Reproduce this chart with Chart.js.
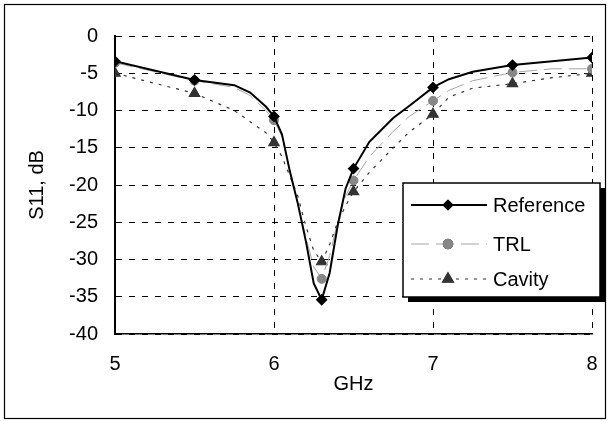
<!DOCTYPE html>
<html>
<head>
<meta charset="utf-8">
<script src="https://cdn.jsdelivr.net/npm/chart.js@4.4.0/dist/chart.umd.min.js"></script>
<style>
  html, body { margin: 0; padding: 0; background: #fff; }
  #wrap { width: 609px; height: 421px; position: relative; }
</style>
</head>
<body>
<div id="wrap"><canvas id="s11Chart" width="609" height="421"></canvas></div>
<script>
// Frequency points (GHz) and measured S11 (dB)
const freqGHz = [5, 5.5, 5.75, 5.85, 5.95, 6, 6.05, 6.1, 6.15, 6.2, 6.25, 6.3, 6.35, 6.4, 6.45, 6.5, 6.6, 6.75, 6.85, 7, 7.1, 7.25, 7.5, 7.75, 8];
const s11Reference = [-3.4, -5.9, -6.6, -7.6, -9.5, -10.8, -13.2, -18.2, -22.5, -27.5, -33.2, -35.4, -31.8, -25.5, -20.5, -17.8, -14.2, -11.0, -9.4, -6.9, -5.8, -4.8, -3.9, -3.4, -2.9];
const s11Trl = [-3.6, -6.0, -6.9, -8.0, -10.0, -11.3, -13.5, -18.0, -22.5, -27.0, -31.0, -32.6, -29.5, -25.0, -21.5, -19.4, -16.2, -12.8, -10.8, -8.7, -7.3, -6.0, -4.9, -4.4, -4.4];
const s11Cavity = [-5.0, -7.7, -10.0, -11.5, -13.0, -14.3, -16.2, -18.8, -21.5, -25.5, -28.8, -30.3, -28.0, -25.0, -22.8, -20.9, -18.3, -15.0, -12.9, -10.5, -8.2, -7.0, -6.4, -5.6, -5.0];
// frequencies where markers are shown
const markerFreqs = [5, 5.5, 6, 6.3, 6.5, 7, 7.5, 8];
const seriesNames = ['Reference', 'TRL', 'Cavity'];

const FONT = '"Liberation Sans", Arial, sans-serif';
const FONT_SIZE = 20;

function toPoints(ys) {
    return freqGHz.map((f, i) => ({ x: f, y: ys[i] }));
}

function markerRadius(r) {
    return ctx => (ctx.raw && markerFreqs.includes(ctx.raw.x)) ? r : 0;
}

// Legend box with drop shadow, drawn inside the plot
const boxLegend = {
    id: 'boxLegend',
    afterDraw(chart) {
        const ctx = chart.ctx;
        const x0 = 403, y0 = 183, w = 197, h = 114;
        ctx.save();
        ctx.fillStyle = '#000';
        ctx.fillRect(x0 + 5, y0 + 5, w, h);
        ctx.fillStyle = '#fff';
        ctx.fillRect(x0, y0, w, h);
        ctx.strokeStyle = '#000';
        ctx.lineWidth = 1.5;
        ctx.strokeRect(x0, y0, w, h);

        const rows = [205, 244, 279];
        chart.data.datasets.forEach((ds, i) => {
            const y = rows[i];
            ctx.save();
            ctx.strokeStyle = ds.borderColor;
            ctx.lineWidth = ds.borderWidth;
            ctx.setLineDash(ds.borderDash || []);
            ctx.beginPath();
            ctx.moveTo(411, y);
            ctx.lineTo(487, y);
            ctx.stroke();
            ctx.restore();
            Chart.helpers.drawPoint(ctx, {
                pointStyle: ds.pointStyle,
                radius: ds.legendRadius,
                borderWidth: 1,
                rotation: 0
            }, 448, y);
            ctx.fillStyle = ds.pointBackgroundColor;
            ctx.strokeStyle = ds.pointBorderColor;
            ctx.fill();
            ctx.stroke();
            ctx.fillStyle = '#000';
            ctx.font = FONT_SIZE + 'px ' + FONT;
            ctx.textBaseline = 'middle';
            ctx.textAlign = 'left';
            ctx.fillText(seriesNames[i], 493, y + 1);
        });
        ctx.restore();

        // outer frame
        ctx.save();
        ctx.strokeStyle = '#000';
        ctx.lineWidth = 1.2;
        ctx.strokeRect(4.5, 4.5, 601, 414);
        ctx.restore();
    }
};

const s11Chart = new Chart(document.getElementById('s11Chart').getContext('2d'), {
    type: 'line',
    data: {
        datasets: [{
            label: seriesNames[0],
            data: toPoints(s11Reference),
            borderColor: '#000',
            borderWidth: 2,
            pointStyle: 'rectRot',
            pointRadius: markerRadius(4.5),
            legendRadius: 4.5,
            pointBackgroundColor: '#000',
            pointBorderColor: '#000',
            tension: 0,
            order: 1
        },
        {
            label: seriesNames[1],
            data: toPoints(s11Trl),
            borderColor: '#a6a6a6',
            borderWidth: 1,
            borderDash: [18, 7],
            pointStyle: 'circle',
            pointRadius: markerRadius(4.5),
            legendRadius: 4.5,
            pointBackgroundColor: '#878787',
            pointBorderColor: '#878787',
            tension: 0,
            order: 2
        },
        {
            label: seriesNames[2],
            data: toPoints(s11Cavity),
            borderColor: '#333',
            borderWidth: 1.2,
            borderDash: [3, 6],
            pointStyle: 'triangle',
            pointRadius: markerRadius(6),
            legendRadius: 6,
            pointBackgroundColor: '#333',
            pointBorderColor: '#333',
            tension: 0,
            order: 3
        }]
    },
    options: {
        responsive: false,
        animation: false,
        events: [],
        layout: { padding: { left: 0, top: 36, right: 17, bottom: 0 } },
        plugins: {
            legend: { display: false },
            tooltip: { enabled: false }
        },
        scales: {
            x: {
                type: 'linear',
                min: 5,
                max: 8,
                // invisible tick marks give the label gap without widening the side padding
                ticks: { stepSize: 1, color: '#000', padding: 0, font: { family: FONT, size: FONT_SIZE } },
                grid: { color: '#000', lineWidth: 1, drawTicks: true, tickLength: 18, tickColor: 'rgba(0,0,0,0)' },
                border: { display: true, color: '#000', width: 1.5, dash: [6, 7] },
                title: { display: true, text: 'GHz', color: '#000', font: { family: FONT, size: FONT_SIZE }, padding: { top: 0, bottom: 25 } },
                afterFit: scale => { scale.height = 87; }
            },
            y: {
                type: 'linear',
                min: -40,
                max: 0,
                ticks: { stepSize: 5, color: '#000', padding: 17, font: { family: FONT, size: FONT_SIZE } },
                grid: { color: '#000', lineWidth: 1, drawTicks: false },
                border: { display: true, color: '#000', width: 2, dash: [6, 7] },
                title: { display: true, text: 'S11, dB', color: '#000', font: { family: FONT, size: FONT_SIZE }, padding: { top: 25, bottom: 0 } },
                afterFit: scale => { scale.width = 115; }
            }
        }
    },
    plugins: [boxLegend]
});
</script>
</body>
</html>
